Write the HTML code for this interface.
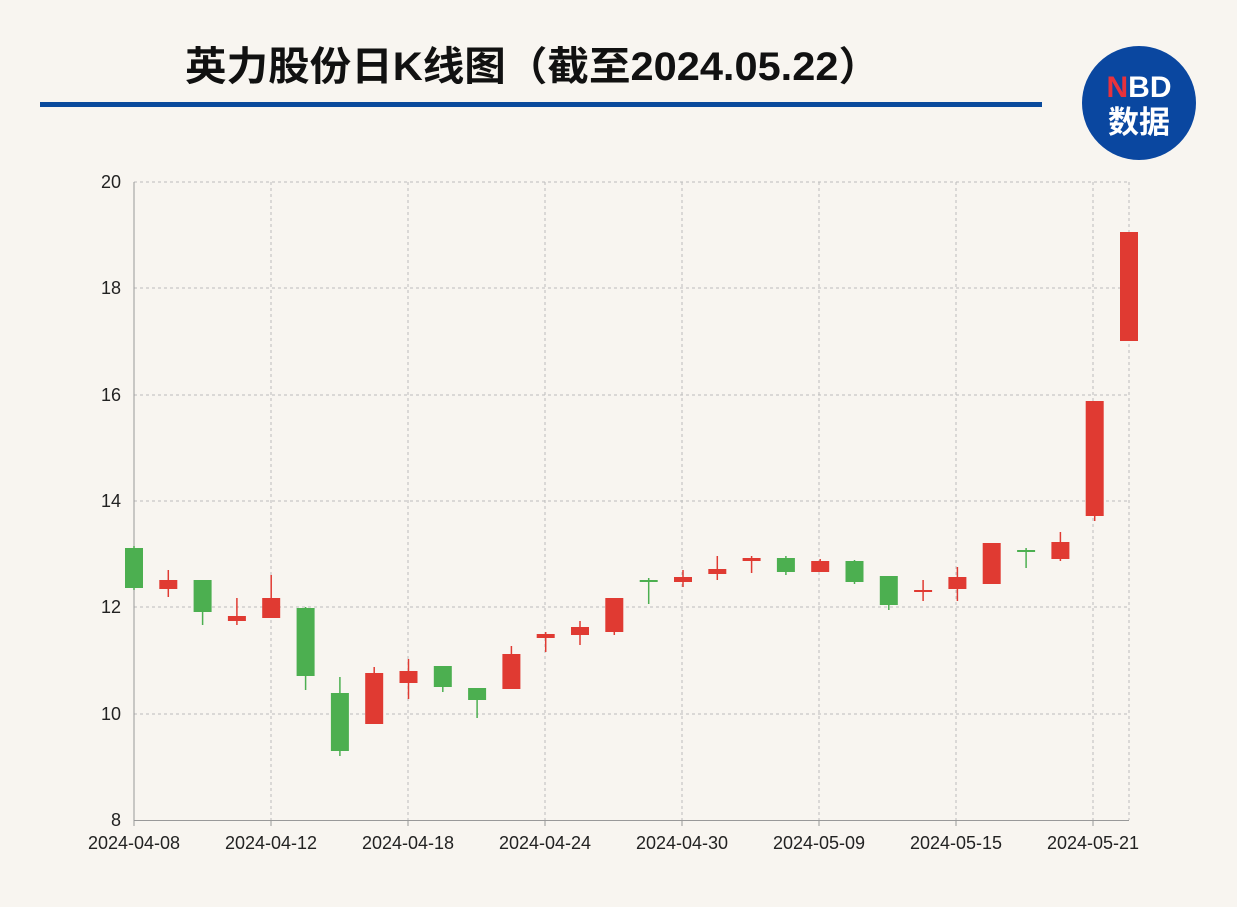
<!DOCTYPE html>
<html><head><meta charset="utf-8"><style>
body{margin:0;background:#f8f5f0;}
svg{display:block;font-family:"Liberation Sans","Noto Sans CJK SC",sans-serif;}
</style></head><body>
<svg width="1237" height="907" viewBox="0 0 1237 907">
<rect width="1237" height="907" fill="#f8f5f0"/>
<text x="185" y="80" font-size="40" font-weight="bold" fill="#111" textLength="695" lengthAdjust="spacingAndGlyphs">英力股份日K线图（截至2024.05.22）</text>
<rect x="40" y="102" width="1002" height="5" fill="#0a4a9c"/>
<circle cx="1139" cy="103" r="57" fill="#0a47a0"/>
<text x="1139" y="97" font-size="30" font-weight="bold" text-anchor="middle" fill="#fff"><tspan fill="#e8323c">N</tspan>BD</text>
<text x="1139" y="133" font-size="31" font-weight="bold" text-anchor="middle" fill="#fff">数据</text>
<g stroke="#bbb" stroke-dasharray="3,3" stroke-width="1">
<line x1="134" y1="182" x2="1129" y2="182"/><line x1="134" y1="288" x2="1129" y2="288"/><line x1="134" y1="395" x2="1129" y2="395"/><line x1="134" y1="501" x2="1129" y2="501"/><line x1="134" y1="607" x2="1129" y2="607"/><line x1="134" y1="714" x2="1129" y2="714"/>
<line x1="271" y1="182" x2="271" y2="820"/><line x1="408" y1="182" x2="408" y2="820"/><line x1="545" y1="182" x2="545" y2="820"/><line x1="682" y1="182" x2="682" y2="820"/><line x1="819" y1="182" x2="819" y2="820"/><line x1="956" y1="182" x2="956" y2="820"/><line x1="1093" y1="182" x2="1093" y2="820"/><line x1="1129" y1="182" x2="1129" y2="820"/>
</g>
<line x1="134" y1="182" x2="134" y2="821" stroke="#999"/>
<line x1="134" y1="820.5" x2="1129" y2="820.5" stroke="#999"/>
<g stroke="#999"><line x1="271" y1="820" x2="271" y2="826"/><line x1="408" y1="820" x2="408" y2="826"/><line x1="545" y1="820" x2="545" y2="826"/><line x1="682" y1="820" x2="682" y2="826"/><line x1="819" y1="820" x2="819" y2="826"/><line x1="956" y1="820" x2="956" y2="826"/><line x1="1093" y1="820" x2="1093" y2="826"/><line x1="134" y1="820" x2="134" y2="826"/></g>
<g font-size="18" fill="#222" text-anchor="end">
<text x="121" y="188">20</text><text x="121" y="294">18</text><text x="121" y="401">16</text><text x="121" y="507">14</text><text x="121" y="613">12</text><text x="121" y="720">10</text><text x="121" y="826">8</text>
</g>
<g font-size="18" fill="#222" text-anchor="middle">
<text x="134" y="849">2024-04-08</text><text x="271" y="849">2024-04-12</text><text x="408" y="849">2024-04-18</text><text x="545" y="849">2024-04-24</text><text x="682" y="849">2024-04-30</text><text x="819" y="849">2024-05-09</text><text x="956" y="849">2024-05-15</text><text x="1093" y="849">2024-05-21</text>
</g>
<g stroke="#4caf50" stroke-width="1.5">
<line x1="134" x2="134" y1="546" y2="590"/>
<line x1="202.6" x2="202.6" y1="580" y2="625"/>
<line x1="305.6" x2="305.6" y1="607" y2="690"/>
<line x1="339.9" x2="339.9" y1="677" y2="756"/>
<line x1="442.8" x2="442.8" y1="666" y2="692"/>
<line x1="477.1" x2="477.1" y1="688" y2="718"/>
<line x1="648.7" x2="648.7" y1="578" y2="604"/>
<line x1="785.9" x2="785.9" y1="556" y2="575"/>
<line x1="854.5" x2="854.5" y1="560" y2="584"/>
<line x1="888.8" x2="888.8" y1="576" y2="610"/>
<line x1="1026.1" x2="1026.1" y1="548" y2="568"/>
</g>
<g fill="#4caf50">
<rect x="125" y="548" width="18" height="40"/>
<rect x="193.6" y="580" width="18" height="32"/>
<rect x="296.6" y="608" width="18" height="68"/>
<rect x="330.9" y="693" width="18" height="58"/>
<rect x="433.8" y="666" width="18" height="21"/>
<rect x="468.1" y="688" width="18" height="12"/>
<rect x="639.7" y="580" width="18" height="2"/>
<rect x="776.9" y="558" width="18" height="14"/>
<rect x="845.5" y="561" width="18" height="21"/>
<rect x="879.8" y="576" width="18" height="29"/>
<rect x="1017.1" y="550" width="18" height="2"/>
</g>
<g stroke="#e03a32" stroke-width="1.5">
<line x1="168.3" x2="168.3" y1="570" y2="597"/>
<line x1="236.9" x2="236.9" y1="598" y2="625"/>
<line x1="271.2" x2="271.2" y1="575" y2="618"/>
<line x1="374.2" x2="374.2" y1="667" y2="724"/>
<line x1="408.5" x2="408.5" y1="659" y2="699"/>
<line x1="511.4" x2="511.4" y1="646" y2="689"/>
<line x1="545.7" x2="545.7" y1="632" y2="652"/>
<line x1="580" x2="580" y1="621" y2="645"/>
<line x1="614.3" x2="614.3" y1="598" y2="635"/>
<line x1="683" x2="683" y1="570" y2="587"/>
<line x1="717.3" x2="717.3" y1="556" y2="580"/>
<line x1="751.6" x2="751.6" y1="556" y2="573"/>
<line x1="820.2" x2="820.2" y1="559" y2="572"/>
<line x1="923.1" x2="923.1" y1="580" y2="601"/>
<line x1="957.4" x2="957.4" y1="567" y2="601"/>
<line x1="1060.4" x2="1060.4" y1="532" y2="561"/>
<line x1="1094.7" x2="1094.7" y1="401" y2="521"/>
</g>
<g fill="#e03a32">
<rect x="159.3" y="580" width="18" height="9"/>
<rect x="227.9" y="616" width="18" height="5"/>
<rect x="262.2" y="598" width="18" height="20"/>
<rect x="365.2" y="673" width="18" height="51"/>
<rect x="399.5" y="671" width="18" height="12"/>
<rect x="502.4" y="654" width="18" height="35"/>
<rect x="536.7" y="634" width="18" height="4"/>
<rect x="571" y="627" width="18" height="8"/>
<rect x="605.3" y="598" width="18" height="34"/>
<rect x="674" y="577" width="18" height="5"/>
<rect x="708.3" y="569" width="18" height="5"/>
<rect x="742.6" y="558" width="18" height="3"/>
<rect x="811.2" y="561" width="18" height="11"/>
<rect x="914.1" y="590" width="18" height="2"/>
<rect x="948.4" y="577" width="18" height="12"/>
<rect x="982.7" y="543" width="18" height="41"/>
<rect x="1051.4" y="542" width="18" height="17"/>
<rect x="1085.7" y="401" width="18" height="115"/>
<rect x="1120" y="232" width="18" height="109"/>
</g>
</svg>
</body></html>
